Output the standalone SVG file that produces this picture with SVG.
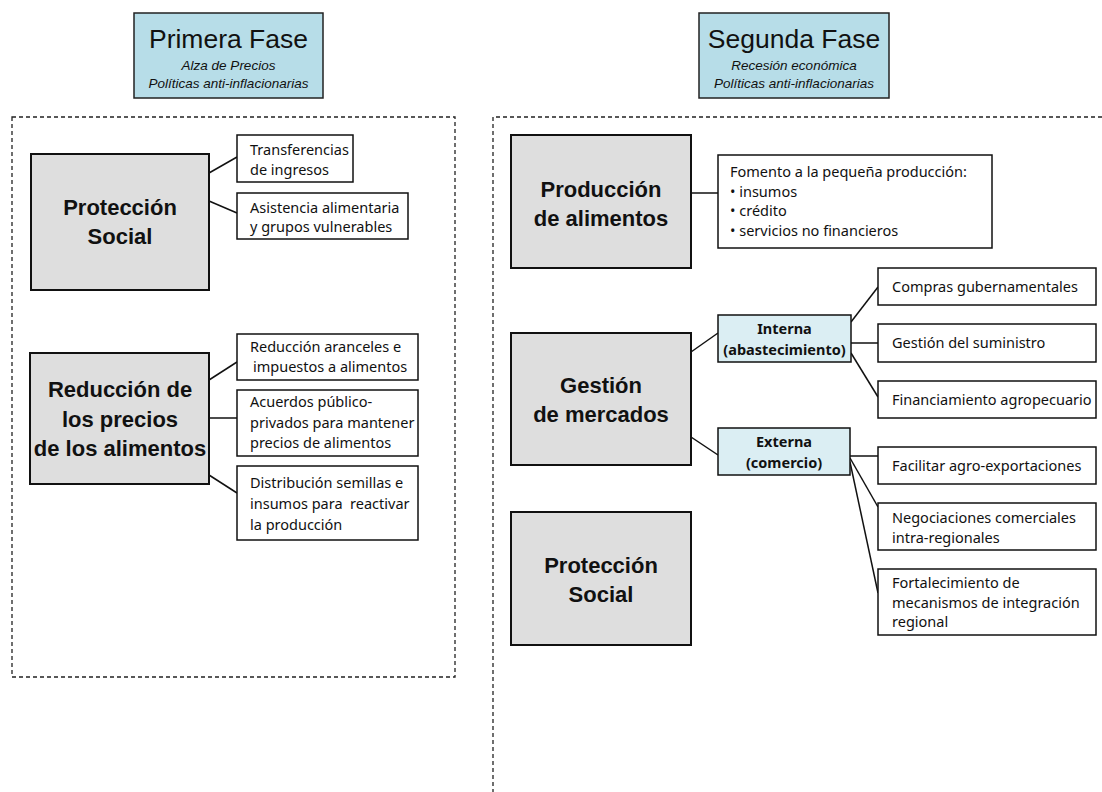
<svg xmlns="http://www.w3.org/2000/svg" width="1102" height="792" viewBox="0 0 1102 792">
<style>
.bg{fill:#fff}
.dash{fill:none;stroke:#222;stroke-width:1.3;stroke-dasharray:4 3}
.hdr{fill:#b7dde8;stroke:#222;stroke-width:1.5}
.main{fill:#dedede;stroke:#111;stroke-width:2}
.leaf{fill:#fff;stroke:#111;stroke-width:1.5}
.sub{fill:#dbeef3;stroke:#111;stroke-width:1.5}
.c line{stroke:#111;stroke-width:1.5}
.t1{font-family:"Liberation Sans",Arial,sans-serif;font-size:26.5px;fill:#111;text-anchor:middle}
.ti{font-family:"Liberation Sans",Arial,sans-serif;font-size:13.5px;font-style:italic;fill:#111;text-anchor:middle}
.tb{font-family:"Liberation Sans",Arial,sans-serif;font-size:22px;font-weight:bold;fill:#111;text-anchor:middle}
.ts{font-family:"Noto Sans","Open Sans",sans-serif;font-size:14.5px;fill:#111}
.tsb{font-family:"Noto Sans","Open Sans",sans-serif;font-size:14.5px;font-weight:bold;fill:#111;text-anchor:middle}
</style>
<rect class="bg" x="0" y="0" width="1102" height="792"/>

<g id="frames">
<rect class="dash" x="12" y="117" width="443" height="560"/>
<path class="dash" d="M493 800 V117 H1110"/>
</g>

<g id="header-primera">
<rect class="hdr" x="134" y="13" width="189" height="85"/>
<text class="t1" x="228.5" y="48">Primera Fase</text>
<text class="ti" x="228.5" y="70">Alza de Precios</text>
<text class="ti" x="228.5" y="88">Políticas anti-inflacionarias</text>
</g>

<g id="header-segunda">
<rect class="hdr" x="699" y="13" width="190" height="85"/>
<text class="t1" x="794" y="48">Segunda Fase</text>
<text class="ti" x="794" y="70">Recesión económica</text>
<text class="ti" x="794" y="88">Políticas anti-inflacionarias</text>
</g>

<g class="c" id="connectors">
<line x1="209" y1="173" x2="237" y2="157"/>
<line x1="209" y1="201" x2="237" y2="213"/>
<line x1="209" y1="380" x2="237" y2="362"/>
<line x1="209" y1="418" x2="237" y2="418"/>
<line x1="209" y1="475" x2="237" y2="493"/>
<line x1="691" y1="193" x2="718" y2="193"/>
<line x1="691" y1="352" x2="718" y2="333"/>
<line x1="691" y1="437" x2="718" y2="455"/>
<line x1="851" y1="322" x2="878" y2="287"/>
<line x1="851" y1="343" x2="878" y2="343"/>
<line x1="851" y1="353" x2="878" y2="397"/>
<line x1="850" y1="456" x2="878" y2="456"/>
<line x1="850" y1="458" x2="878" y2="507"/>
<line x1="850" y1="462" x2="878" y2="593"/>
</g>

<g id="proteccion-1">
<rect class="main" x="31" y="154" width="178" height="136"/>
<text class="tb" x="120" y="215">Protección</text>
<text class="tb" x="120" y="244">Social</text>
</g>
<g id="transferencias">
<rect class="leaf" x="237" y="135" width="116" height="47"/>
<text class="ts" x="250" y="155">Transferencias</text>
<text class="ts" x="250" y="175">de ingresos</text>
</g>
<g id="asistencia">
<rect class="leaf" x="237" y="193" width="171" height="46"/>
<text class="ts" x="250" y="213">Asistencia alimentaria</text>
<text class="ts" x="250" y="232">y grupos vulnerables</text>
</g>

<g id="reduccion">
<rect class="main" x="30" y="353" width="179" height="131"/>
<text class="tb" x="120" y="397">Reducción de</text>
<text class="tb" x="120" y="427">los precios</text>
<text class="tb" x="120" y="456">de los alimentos</text>
</g>
<g id="aranceles">
<rect class="leaf" x="237" y="334" width="181" height="46"/>
<text class="ts" x="250" y="352">Reducción aranceles e</text>
<text class="ts" x="253" y="372">impuestos a alimentos</text>
</g>
<g id="acuerdos">
<rect class="leaf" x="237" y="390" width="181" height="66"/>
<text class="ts" x="250" y="407">Acuerdos público-</text>
<text class="ts" x="250" y="428">privados para mantener</text>
<text class="ts" x="250" y="448">precios de alimentos</text>
</g>
<g id="distribucion">
<rect class="leaf" x="237" y="466" width="181" height="74"/>
<text class="ts" x="250" y="488">Distribución semillas e</text>
<text class="ts" x="250" y="509" xml:space="preserve">insumos para  reactivar</text>
<text class="ts" x="250" y="530">la producción</text>
</g>

<g id="produccion">
<rect class="main" x="511" y="135" width="180" height="133"/>
<text class="tb" x="601" y="197">Producción</text>
<text class="tb" x="601" y="226">de alimentos</text>
</g>
<g id="fomento">
<rect class="leaf" x="718" y="155" width="274" height="93"/>
<text class="ts" x="730" y="177">Fomento a la pequeña producción:</text>
<text class="ts" x="730" y="197">• insumos</text>
<text class="ts" x="730" y="216">• crédito</text>
<text class="ts" x="730" y="236">• servicios no financieros</text>
</g>

<g id="gestion">
<rect class="main" x="511" y="333" width="180" height="132"/>
<text class="tb" x="601" y="393">Gestión</text>
<text class="tb" x="601" y="422">de mercados</text>
</g>
<g id="interna">
<rect class="sub" x="718" y="315" width="133" height="47"/>
<text class="tsb" x="784.5" y="334">Interna</text>
<text class="tsb" x="784.5" y="355">(abastecimiento)</text>
</g>
<g id="externa">
<rect class="sub" x="718" y="428" width="132" height="47"/>
<text class="tsb" x="784" y="447">Externa</text>
<text class="tsb" x="784" y="468">(comercio)</text>
</g>

<g id="compras">
<rect class="leaf" x="878" y="268" width="218" height="37"/>
<text class="ts" x="892" y="292">Compras gubernamentales</text>
</g>
<g id="suministro">
<rect class="leaf" x="878" y="324" width="218" height="38"/>
<text class="ts" x="892" y="348">Gestión del suministro</text>
</g>
<g id="financiamiento">
<rect class="leaf" x="878" y="381" width="218" height="37"/>
<text class="ts" x="892" y="405">Financiamiento agropecuario</text>
</g>
<g id="facilitar">
<rect class="leaf" x="878" y="447" width="218" height="37"/>
<text class="ts" x="892" y="471">Facilitar agro-exportaciones</text>
</g>
<g id="negociaciones">
<rect class="leaf" x="878" y="503" width="218" height="47"/>
<text class="ts" x="892" y="523">Negociaciones comerciales</text>
<text class="ts" x="892" y="543">intra-regionales</text>
</g>
<g id="fortalecimiento">
<rect class="leaf" x="878" y="569" width="218" height="66"/>
<text class="ts" x="892" y="588">Fortalecimiento de</text>
<text class="ts" x="892" y="608">mecanismos de integración</text>
<text class="ts" x="892" y="627">regional</text>
</g>

<g id="proteccion-2">
<rect class="main" x="511" y="512" width="180" height="133"/>
<text class="tb" x="601" y="573">Protección</text>
<text class="tb" x="601" y="602">Social</text>
</g>
</svg>
